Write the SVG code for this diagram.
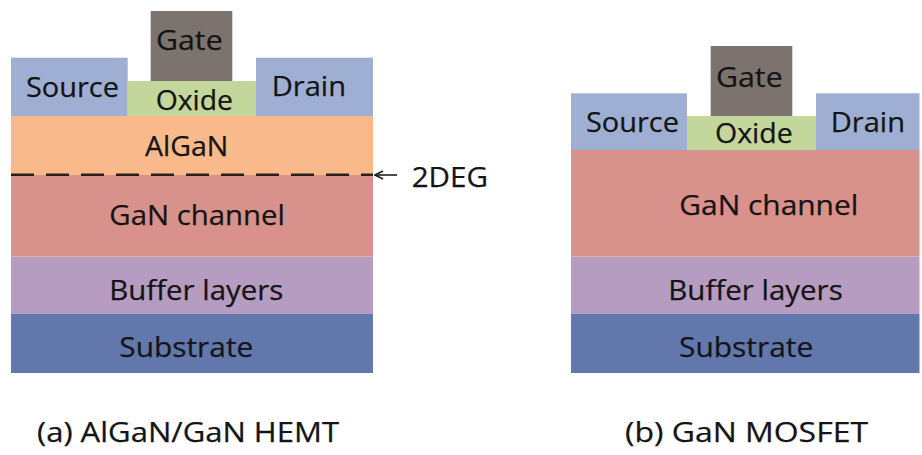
<svg xmlns="http://www.w3.org/2000/svg" width="922" height="455" viewBox="0 0 922 455">
<style>
text{font-family:"Open Sans","Liberation Sans",sans-serif;font-size:28px;fill:#141414;stroke:#141414;stroke-width:0.25}
.sd{fill:#9fafd3}
.gate{fill:#7d736e}
.ox{fill:#c3d69c}
.algan{fill:#f9b98b}
.gan{fill:#d9918c}
.buf{fill:#b69cc0}
.sub{fill:#6277ac}
</style>
<defs>
<marker id="ah" viewBox="0 0 10 10" refX="9" refY="5" markerWidth="10" markerHeight="10" markerUnits="userSpaceOnUse" orient="auto">
<polyline points="1,1 9,5 1,9" fill="none" stroke="#1e1e1e" stroke-width="1.6"/>
</marker>
</defs>
<rect width="922" height="455" fill="#fff"/>
<!-- Left: AlGaN/GaN HEMT -->
<g id="hemt-substrate"><rect class="sub" x="11" y="314" width="362" height="59"/><text x="119.3" y="357" textLength="134" lengthAdjust="spacingAndGlyphs">Substrate</text></g>
<g id="hemt-buffer"><rect class="buf" x="11" y="256.5" width="362" height="57.5"/><text x="109.3" y="299.5" textLength="174" lengthAdjust="spacingAndGlyphs">Buffer layers</text></g>
<g id="hemt-gan"><rect class="gan" x="11" y="175" width="362" height="81.5"/><text x="109.3" y="225" textLength="175.7" lengthAdjust="spacingAndGlyphs">GaN channel</text></g>
<g id="hemt-algan"><rect class="algan" x="11" y="116" width="362" height="59"/><text x="145" y="155.7" textLength="83.3" lengthAdjust="spacingAndGlyphs">AlGaN</text></g>
<g id="hemt-source"><rect class="sd" x="11" y="57.7" width="116.7" height="58.3"/><text x="26" y="96.7" textLength="93" lengthAdjust="spacingAndGlyphs">Source</text></g>
<g id="hemt-oxide"><rect class="ox" x="127.7" y="81" width="128.3" height="35"/><text x="155.7" y="110" textLength="77.3" lengthAdjust="spacingAndGlyphs">Oxide</text></g>
<g id="hemt-gate"><rect class="gate" x="150.7" y="11" width="81.6" height="70"/><text x="156" y="50" textLength="66.7" lengthAdjust="spacingAndGlyphs">Gate</text></g>
<g id="hemt-drain"><rect class="sd" x="256" y="57.7" width="117" height="58.3"/><text x="271.7" y="96" textLength="74.3" lengthAdjust="spacingAndGlyphs">Drain</text></g>
<g id="hemt-2deg-line"><line x1="11" y1="174.8" x2="373" y2="174.8" stroke="#2a1e1a" stroke-width="2.6" stroke-dasharray="23 12"/></g>
<g id="label-2deg"><text x="411.7" y="186.7" textLength="76.3" lengthAdjust="spacingAndGlyphs">2DEG</text></g>
<!-- Right: GaN MOSFET -->
<g id="mos-substrate"><rect class="sub" x="571" y="314" width="348.5" height="59"/><text x="679" y="357" textLength="134.3" lengthAdjust="spacingAndGlyphs">Substrate</text></g>
<g id="mos-buffer"><rect class="buf" x="571" y="256.5" width="348.5" height="57.5"/><text x="668.3" y="299.5" textLength="174.4" lengthAdjust="spacingAndGlyphs">Buffer layers</text></g>
<g id="mos-gan"><rect class="gan" x="571" y="150" width="348.5" height="106.5"/><text x="679.3" y="215" textLength="179" lengthAdjust="spacingAndGlyphs">GaN channel</text></g>
<g id="mos-source"><rect class="sd" x="571" y="93.3" width="116" height="56.7"/><text x="586" y="131.7" textLength="93" lengthAdjust="spacingAndGlyphs">Source</text></g>
<g id="mos-oxide"><rect class="ox" x="687" y="116" width="129" height="34"/><text x="715" y="143.3" textLength="77.7" lengthAdjust="spacingAndGlyphs">Oxide</text></g>
<g id="mos-gate"><rect class="gate" x="710.7" y="46" width="81.6" height="70"/><text x="716" y="86.7" textLength="66.7" lengthAdjust="spacingAndGlyphs">Gate</text></g>
<g id="mos-drain"><rect class="sd" x="816" y="93.3" width="103.5" height="56.7"/><text x="830.7" y="131.7" textLength="74.3" lengthAdjust="spacingAndGlyphs">Drain</text></g>
<!-- Captions -->
<g id="caption-a"><text x="37" y="442.3" textLength="302" lengthAdjust="spacingAndGlyphs">(a) AlGaN/GaN HEMT</text></g>
<g id="caption-b"><text x="625" y="442.3" textLength="243" lengthAdjust="spacingAndGlyphs">(b) GaN MOSFET</text></g>
<!-- Connectors -->
<g id="connectors">
<line x1="397" y1="175" x2="375" y2="175" stroke="#1e1e1e" stroke-width="1.6" marker-end="url(#ah)"/>
</g>
</svg>
